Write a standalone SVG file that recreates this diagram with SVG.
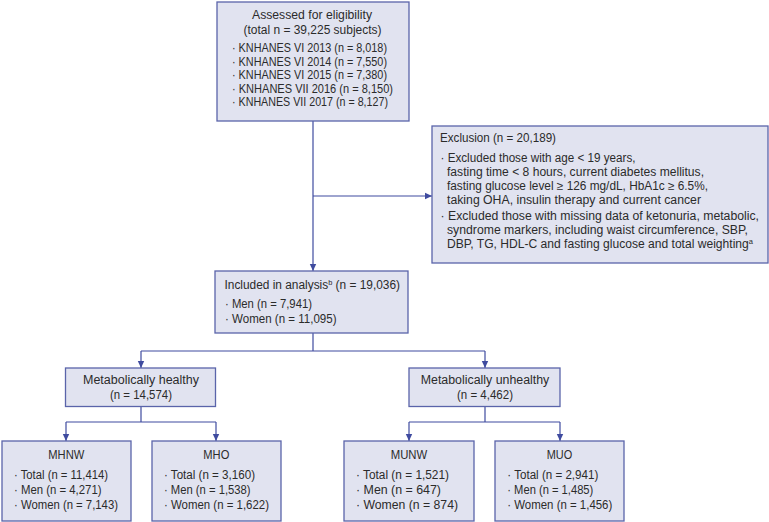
<svg xmlns="http://www.w3.org/2000/svg" width="769" height="522" viewBox="0 0 769 522">
<defs>
<style>
.box{fill:#e1e3f0;stroke:#5a64aa;stroke-width:1.3}
.ln{fill:none;stroke:#3f4b9f;stroke-width:1.2}
text{font-family:"Liberation Sans",Arial,sans-serif;font-size:12px;fill:#2b2b2b}
.c{text-anchor:middle}
.sup{font-size:7.5px}
</style>
<marker id="ah" markerUnits="userSpaceOnUse" markerWidth="8" markerHeight="8" refX="7" refY="4" orient="auto">
<path d="M0,0.8 L7,4 L0,7.2 Z" fill="#3f4b9f"/>
</marker>
</defs>
<rect width="769" height="522" fill="#ffffff"/>
<g id="connectors">
<path class="ln" d="M313 121 V271" marker-end="url(#ah)"/>
<path class="ln" d="M313 196 H432" marker-end="url(#ah)"/>
<path class="ln" d="M313 333 V351 M141 351 H485"/>
<path class="ln" d="M141 351 V368" marker-end="url(#ah)"/>
<path class="ln" d="M485 351 V368" marker-end="url(#ah)"/>
<path class="ln" d="M141 406.5 V422 M66 422 H216"/>
<path class="ln" d="M66 422 V441" marker-end="url(#ah)"/>
<path class="ln" d="M216 422 V441" marker-end="url(#ah)"/>
<path class="ln" d="M485 406.5 V422 M409 422 H560"/>
<path class="ln" d="M409 422 V441" marker-end="url(#ah)"/>
<path class="ln" d="M560 422 V441" marker-end="url(#ah)"/>
</g>
<g id="assessed">
<rect class="box" x="217" y="2" width="192" height="119"/>
<text class="c" x="312" y="19" textLength="120" lengthAdjust="spacingAndGlyphs">Assessed for eligibility</text>
<text class="c" x="312.5" y="33.5" textLength="138" lengthAdjust="spacingAndGlyphs">(total n = 39,225 subjects)</text>
<text x="232" y="52" textLength="155" lengthAdjust="spacingAndGlyphs">· KNHANES VI 2013 (n = 8,018)</text>
<text x="232" y="65.5" textLength="155" lengthAdjust="spacingAndGlyphs">· KNHANES VI 2014 (n = 7,550)</text>
<text x="232" y="79" textLength="155" lengthAdjust="spacingAndGlyphs">· KNHANES VI 2015 (n = 7,380)</text>
<text x="232" y="92.5" textLength="161" lengthAdjust="spacingAndGlyphs">· KNHANES VII 2016 (n = 8,150)</text>
<text x="232" y="106" textLength="156" lengthAdjust="spacingAndGlyphs">· KNHANES VII 2017 (n = 8,127)</text>
</g>
<g id="exclusion">
<rect class="box" x="432" y="126" width="336" height="137"/>
<text x="440" y="141.5" textLength="116" lengthAdjust="spacingAndGlyphs">Exclusion (n = 20,189)</text>
<text x="440.5" y="161.5" textLength="195" lengthAdjust="spacingAndGlyphs">· Excluded those with age &lt; 19 years,</text>
<text x="447" y="175.5" textLength="257" lengthAdjust="spacingAndGlyphs">fasting time &lt; 8 hours, current diabetes mellitus,</text>
<text x="447" y="189.5" textLength="261" lengthAdjust="spacingAndGlyphs">fasting glucose level ≥ 126 mg/dL, HbA1c ≥ 6.5%,</text>
<text x="447" y="203.5" textLength="254" lengthAdjust="spacingAndGlyphs">taking OHA, insulin therapy and current cancer</text>
<text x="440.5" y="220" textLength="318.5" lengthAdjust="spacingAndGlyphs">· Excluded those with missing data of ketonuria, metabolic,</text>
<text x="447" y="234" textLength="301" lengthAdjust="spacingAndGlyphs">syndrome markers, including waist circumference, SBP,</text>
<text x="447" y="248" textLength="306" lengthAdjust="spacingAndGlyphs">DBP, TG, HDL-C and fasting glucose and total weighting<tspan class="sup" dy="-4">a</tspan></text>
</g>
<g id="included">
<rect class="box" x="215" y="271" width="193" height="62"/>
<text x="224.5" y="289" textLength="175.5" lengthAdjust="spacingAndGlyphs">Included in analysis<tspan class="sup" dy="-4">b</tspan><tspan dy="4"> (n = 19,036)</tspan></text>
<text x="225" y="308" textLength="87" lengthAdjust="spacingAndGlyphs">· Men (n = 7,941)</text>
<text x="225" y="323" textLength="111.5" lengthAdjust="spacingAndGlyphs">· Women (n = 11,095)</text>
</g>
<g id="healthy">
<rect class="box" x="65.5" y="368" width="150" height="38.5"/>
<text class="c" x="141" y="384" textLength="116" lengthAdjust="spacingAndGlyphs">Metabolically healthy</text>
<text class="c" x="141" y="399" textLength="62" lengthAdjust="spacingAndGlyphs">(n = 14,574)</text>
</g>
<g id="unhealthy">
<rect class="box" x="409" y="368" width="151" height="38.5"/>
<text class="c" x="485" y="384" textLength="128.5" lengthAdjust="spacingAndGlyphs">Metabolically unhealthy</text>
<text class="c" x="485" y="399" textLength="56" lengthAdjust="spacingAndGlyphs">(n = 4,462)</text>
</g>
<g id="mhnw">
<rect class="box" x="2" y="441" width="129" height="80"/>
<text class="c" x="66.3" y="459" textLength="36" lengthAdjust="spacingAndGlyphs">MHNW</text>
<text x="14" y="479" textLength="94" lengthAdjust="spacingAndGlyphs">· Total (n = 11,414)</text>
<text x="14" y="494" textLength="87.5" lengthAdjust="spacingAndGlyphs">· Men (n = 4,271)</text>
<text x="14" y="509" textLength="104" lengthAdjust="spacingAndGlyphs">· Women (n = 7,143)</text>
</g>
<g id="mho">
<rect class="box" x="152" y="441" width="129" height="80"/>
<text class="c" x="216.3" y="459" textLength="26" lengthAdjust="spacingAndGlyphs">MHO</text>
<text x="164" y="479" textLength="91" lengthAdjust="spacingAndGlyphs">· Total (n = 3,160)</text>
<text x="164" y="494" textLength="86.5" lengthAdjust="spacingAndGlyphs">· Men (n = 1,538)</text>
<text x="164" y="509" textLength="105" lengthAdjust="spacingAndGlyphs">· Women (n = 1,622)</text>
</g>
<g id="munw">
<rect class="box" x="344" y="441" width="130" height="80"/>
<text class="c" x="409" y="459" textLength="36.5" lengthAdjust="spacingAndGlyphs">MUNW</text>
<text x="356" y="479" textLength="93" lengthAdjust="spacingAndGlyphs">· Total (n = 1,521)</text>
<text x="356" y="494" textLength="85" lengthAdjust="spacingAndGlyphs">· Men (n = 647)</text>
<text x="356" y="509" textLength="102" lengthAdjust="spacingAndGlyphs">· Women (n = 874)</text>
</g>
<g id="muo">
<rect class="box" x="495" y="441" width="129" height="80"/>
<text class="c" x="559.5" y="459" textLength="25.5" lengthAdjust="spacingAndGlyphs">MUO</text>
<text x="507.3" y="479" textLength="91" lengthAdjust="spacingAndGlyphs">· Total (n = 2,941)</text>
<text x="507.3" y="494" textLength="86" lengthAdjust="spacingAndGlyphs">· Men (n = 1,485)</text>
<text x="507.3" y="509" textLength="105" lengthAdjust="spacingAndGlyphs">· Women (n = 1,456)</text>
</g>
</svg>
